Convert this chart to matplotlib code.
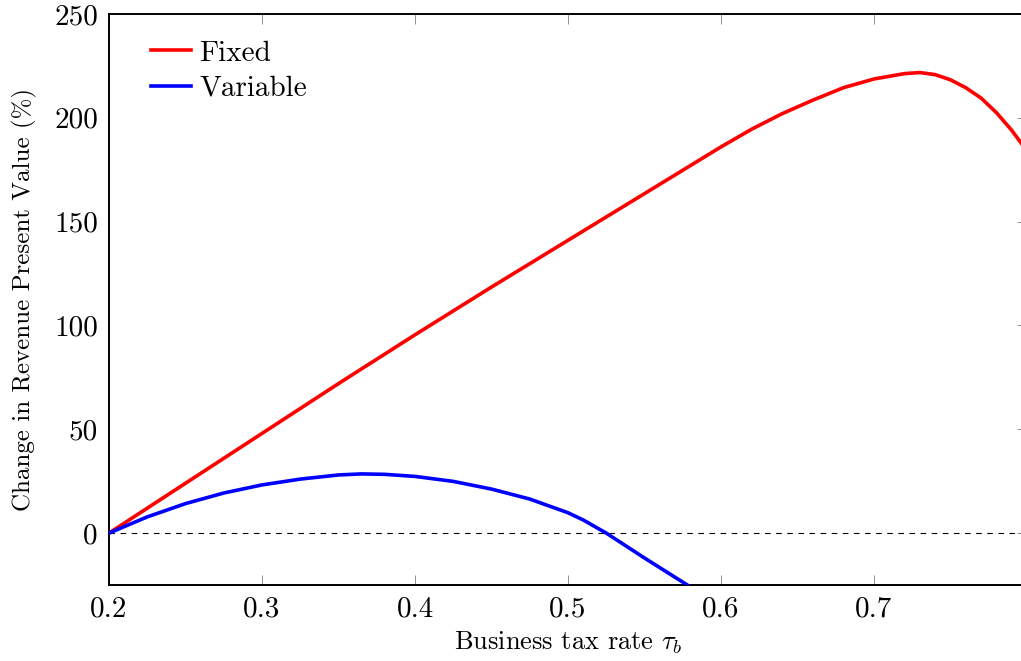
import numpy as np
import matplotlib
matplotlib.use("Agg")
import matplotlib.pyplot as plt

plt.rcParams['font.family'] = 'serif'
plt.rcParams['font.serif'] = ['cmr10']
plt.rcParams['mathtext.fontset'] = 'cm'
plt.rcParams['axes.formatter.use_mathtext'] = True

# values
tax_fixed = [0.20, 0.25, 0.30, 0.35, 0.40, 0.45, 0.50, 0.55, 0.58, 0.60, 0.62,
             0.64, 0.66, 0.68, 0.70, 0.71, 0.72, 0.73, 0.74, 0.75, 0.76, 0.77,
             0.78, 0.79, 0.80]
rev_fixed = [0.0, 24.0, 48.0, 72.0, 95.5, 118.5, 141.0, 163.5, 177.0, 186.0, 194.5,
             202.0, 208.5, 214.5, 218.7, 220.0, 221.3, 221.8, 220.8, 218.3, 214.5, 209.5,
             202.5, 194.0, 184.0]

tax_var = [0.20, 0.225, 0.25, 0.275, 0.30, 0.325, 0.35, 0.365, 0.38, 0.40, 0.425,
           0.45, 0.475, 0.50, 0.51, 0.525, 0.55, 0.578, 0.60]
rev_var = [0.0, 7.8, 14.2, 19.3, 23.2, 26.0, 28.0, 28.5, 28.3, 27.3, 24.9,
           21.2, 16.4, 9.8, 6.3, 0.0, -12.0, -25.0, -35.5]

xticks = [0.2, 0.3, 0.4, 0.5, 0.6, 0.7]
yticks = [0, 50, 100, 150, 200, 250]

fig = plt.figure(figsize=(10.21, 6.61), dpi=100)
ax = fig.add_axes([109 / 1021, 76 / 661, 918 / 1021, 571 / 661])

ax.axhline(0, color='black', lw=0.8, ls=(0, (5, 5)), zorder=1)
ax.plot(tax_fixed, rev_fixed, color='red', lw=2.6, label='Fixed', zorder=3)
ax.plot(tax_var, rev_var, color='blue', lw=2.6, label='Variable', zorder=3)

ax.set_xlim(0.2, 0.8)
ax.set_ylim(-25, 250)
ax.set_xticks(xticks)
ax.set_xticklabels([f'{t:.1f}' for t in xticks])
ax.set_yticks(yticks)
ax.set_yticklabels([str(t) for t in yticks])

ax.tick_params(axis='x', direction='in', top=True, bottom=True, length=7,
               width=0.6, color='gray', labelsize=21, pad=8)
ax.tick_params(axis='y', direction='in', left=False, right=True, labelleft=True,
               length=7, width=0.6, color='gray', labelsize=21, pad=8)
for s in ax.spines.values():
    s.set_linewidth(1.4)

ax.set_xlabel(r'Business tax rate $\tau_b$', fontsize=19, labelpad=5)
ax.set_ylabel('Change in Revenue Present Value (%)', fontsize=18, labelpad=12)

ax.legend(loc='upper left', fontsize=21, frameon=False, handlelength=1.35,
          handletextpad=0.3, labelspacing=0.3, borderaxespad=0.3,
          bbox_to_anchor=(0.024, 0.99))

fig.savefig('out.png', dpi=100)
